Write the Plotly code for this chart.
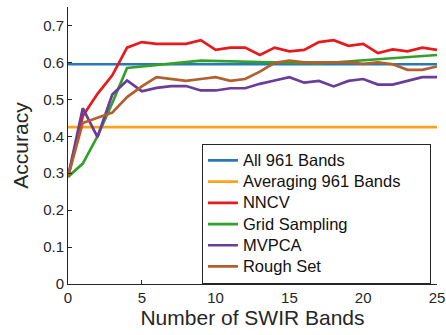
import plotly.graph_objects as go

bands = list(range(0, 26))
all_961 = [0.595] * 26
avg_961 = [0.425] * 26
nncv = [0.29, 0.455, 0.515, 0.565, 0.64, 0.655, 0.65, 0.65, 0.65, 0.66, 0.634, 0.64, 0.64,
        0.62, 0.64, 0.63, 0.634, 0.655, 0.66, 0.645, 0.65, 0.625, 0.635, 0.63, 0.64, 0.634]
grid_x = [0, 1, 2, 3, 4, 9, 17, 25]
grid = [0.29, 0.326, 0.40, 0.49, 0.585, 0.605, 0.597, 0.62]
mvpca = [0.29, 0.476, 0.398, 0.513, 0.551, 0.522, 0.531, 0.536, 0.536, 0.524, 0.524, 0.53, 0.53,
         0.542, 0.551, 0.56, 0.545, 0.55, 0.535, 0.55, 0.555, 0.54, 0.54, 0.55, 0.56, 0.56]
rough = [0.29, 0.436, 0.45, 0.464, 0.506, 0.535, 0.56, 0.554, 0.55, 0.555, 0.56, 0.55, 0.555,
         0.575, 0.599, 0.605, 0.6, 0.6, 0.6, 0.6, 0.596, 0.6, 0.595, 0.58, 0.58, 0.589]

series = [
    ("All 961 Bands", bands, all_961, "#2878b8"),
    ("Averaging 961 Bands", bands, avg_961, "#ffa31a"),
    ("NNCV", bands, nncv, "#e41a1c"),
    ("Grid Sampling", grid_x, grid, "#33a02c"),
    ("MVPCA", bands, mvpca, "#6a3d9a"),
    ("Rough Set", bands, rough, "#b15f2e"),
]

fig = go.Figure()
for name, xs, ys, c in series:
    fig.add_trace(go.Scatter(x=xs, y=ys, mode="lines",
                             name='<span style="font-size:16.5px">' + name + '</span>',
                             line=dict(color=c, width=2.7)))

axcol = "#262626"
font = "Liberation Sans, Arial, sans-serif"
fig.update_layout(
    width=446, height=335,
    margin=dict(l=68, r=9, t=7, b=51, autoexpand=False),
    paper_bgcolor="white", plot_bgcolor="white",
    font=dict(family=font, color=axcol),
    showlegend=True,
    legend=dict(x=0.363, y=0.506, xanchor="left", yanchor="top",
                orientation="h", entrywidth=182, entrywidthmode="pixels",
                bgcolor="white", bordercolor=axcol, borderwidth=1,
                font=dict(size=14, family=font, color="#111"),
                itemwidth=30, tracegroupgap=0),
    xaxis=dict(range=[0, 25], tickvals=[0, 5, 10, 15, 20, 25], automargin=False,
               showgrid=False, zeroline=False, showline=True, linecolor=axcol, linewidth=1,
               ticks="inside", ticklen=4, tickcolor=axcol,
               tickfont=dict(size=15, color=axcol),
               title=dict(text="Number of SWIR Bands", font=dict(size=21, color=axcol), standoff=2)),
    yaxis=dict(range=[0, 0.75], tickvals=[0, 0.1, 0.2, 0.3, 0.4, 0.5, 0.6, 0.7], automargin=False,
               ticktext=["0", "0.1", "0.2", "0.3", "0.4", "0.5", "0.6", "0.7"],
               showgrid=False, zeroline=False, showline=True, linecolor=axcol, linewidth=1,
               ticks="inside", ticklen=4, tickcolor=axcol,
               tickfont=dict(size=15, color=axcol),
               title=dict(text="Accuracy", font=dict(size=21, color=axcol), standoff=8)),
)
fig.write_html("out.html")
